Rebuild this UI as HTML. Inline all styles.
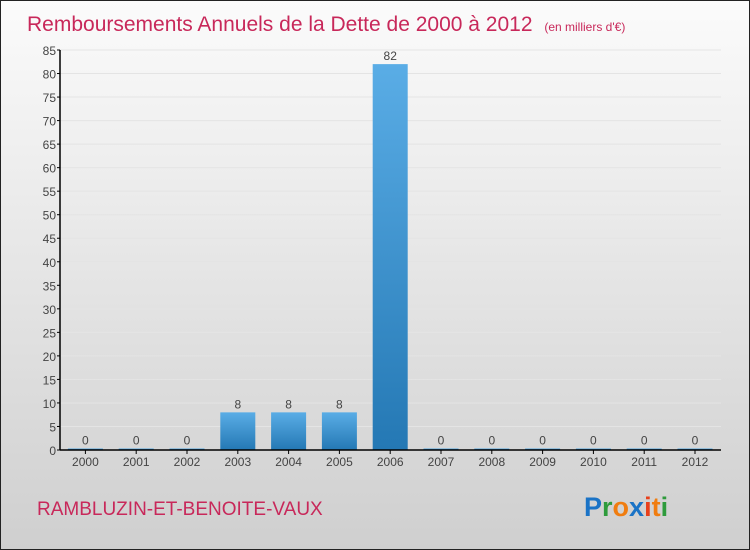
<!DOCTYPE html>
<html><head><meta charset="utf-8"><style>
body{margin:0;}
#c{position:relative;width:748px;height:548px;border:1px solid #222;background:linear-gradient(#fbfbfb,#cfcfcf);overflow:hidden;font-family:"Liberation Sans",sans-serif;}
</style></head><body>
<div id="c">
<svg id="s" width="748" height="548">
<defs><linearGradient id="g" x1="0" y1="0" x2="0" y2="1"><stop offset="0" stop-color="#5aade6"/><stop offset="1" stop-color="#2478b4"/></linearGradient></defs>
<text x="26" y="30" font-size="21" fill="#c8285a">Remboursements Annuels de la Dette de 2000 à 2012 <tspan font-size="12" dx="6">(en milliers d'€)</tspan></text>
<text x="36" y="514" font-size="19" fill="#c8285a">RAMBLUZIN-ET-BENOITE-VAUX</text>
<text x="583" y="515" font-size="27" font-weight="bold"><tspan fill="#1a73c6">P</tspan><tspan fill="#2e9b3c">r</tspan><tspan fill="#f07d10">o</tspan><tspan fill="#1a73c6">x</tspan><tspan fill="#e8401c">i</tspan><tspan fill="#f07d10">t</tspan><tspan fill="#2e9b3c">i</tspan></text>
<g id="plot"></g>
</svg>
</div>
<script>
const categories=["2000","2001","2002","2003","2004","2005","2006","2007","2008","2009","2010","2011","2012"];
const values=[0,0,0,8,8,8,82,0,0,0,0,0,0];
const yTicks=[0,5,10,15,20,25,30,35,40,45,50,55,60,65,70,75,80,85];
const X0=59,BW=50.8,Y0=449,YT=49,YMAX=85;
const y=v=>Y0-(Y0-YT)*v/YMAX;
const x=i=>X0+BW*i+BW/2;
const ns="http://www.w3.org/2000/svg";
const p=document.getElementById('plot');
function mk(t,a){const e=document.createElementNS(ns,t);for(const k in a)e.setAttribute(k,a[k]);p.appendChild(e);return e;}
yTicks.forEach(t=>{
 const l=mk('line',{x1:X0,x2:720,y1:y(t),y2:y(t),stroke:'#e4e4e4','stroke-width':1});
 
 
 const k=mk('line',{x1:X0-3,x2:X0,y1:y(t),y2:y(t),stroke:'#000'});
 
 
 const tx=mk('text',{x:X0-4,y:y(t)+5,'text-anchor':'end','font-size':12,fill:'#444'});
 tx.textContent=t;
 
 
});
categories.forEach((c,i)=>{
 const v=values[i];
 const h=Math.max(Y0-y(v),1.5);
 const r=mk('rect',{x:x(i)-17.5,y:Y0-h,width:35,height:h,fill:'url(#g)'});
 
 
 const vl=mk('text',{x:x(i),y:Y0-h-4,'text-anchor':'middle','font-size':12,fill:'#444'});
 vl.textContent=v;
 
 
 const tk=mk('line',{x1:x(i),x2:x(i),y1:Y0,y2:Y0+4,stroke:'#000'});
 
 
 const xl=mk('text',{x:x(i),y:Y0+16,'text-anchor':'middle','font-size':12,fill:'#444'});
 xl.textContent=c;
 
 
});
const ya=mk('line',{x1:X0,x2:X0,y1:YT,y2:Y0,stroke:'#000','stroke-width':1.5});


const xa=mk('line',{x1:X0,x2:720,y1:Y0,y2:Y0,stroke:'#000','stroke-width':1.5});


</script>
</body></html>
